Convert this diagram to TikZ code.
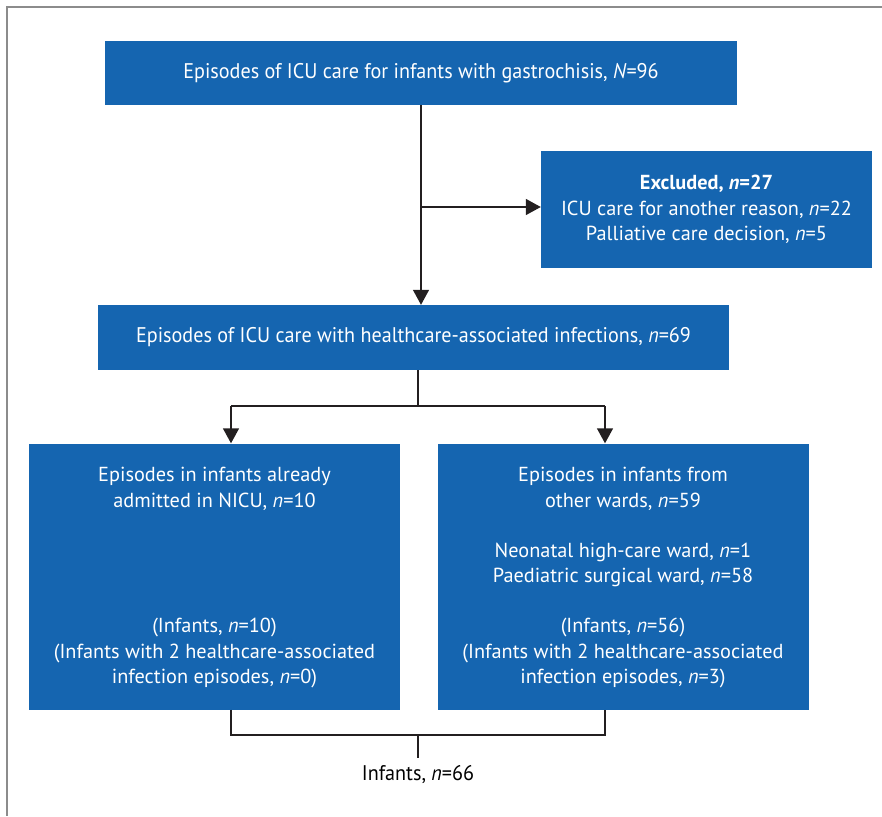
\documentclass[tikz,border=0pt]{standalone}
\usepackage{fontspec}
\setmainfont{PT Sans}
\newfontfamily\narrowfont[FakeStretch=0.95]{PT Sans}
\usepackage{xcolor}
\usetikzlibrary{arrows.meta}
\definecolor{boxblue}{RGB}{21,101,176}
\definecolor{linedark}{RGB}{35,31,32}
\definecolor{framegray}{RGB}{140,140,140}

\begin{document}
\begin{tikzpicture}[x=1pt,y=-1pt,
  box/.style={fill=boxblue, inner sep=0pt},
  boxtext/.style={text=white, align=center, inner sep=0pt, font=\fontsize{20.3}{25.5}\selectfont},
  narrowtext/.style={boxtext, font=\narrowfont\fontsize{21.2}{25.5}\selectfont},
  link/.style={draw=linedark, line width=1.4pt},
  arrow/.style={link, -{Triangle[width=16pt,length=15pt]}}]
                \useasboundingbox (0,0) rectangle (882,816);
                \draw[framegray, line width=1.5pt] (882,7) -- (7,7) -- (7,816);
                \node[box, minimum width=632pt, minimum height=64pt] (start) at (421,73) {};
                \node[narrowtext] (start-t) at (start) {Episodes of ICU care for infants with gastrochisis, \textit{N}=96};
                \node[box, minimum width=331pt, minimum height=117pt] (excl) at (706.5,209.5) {};
                \node[boxtext] (excl-t) at (excl) {\textbf{Excluded, \textit{n}=27}\\ICU care for another reason, \textit{n}=22\\Palliative care decision, \textit{n}=5};
                \node[box, minimum width=631pt, minimum height=65pt] (hai) at (413.5,337.5) {};
                \node[narrowtext] (hai-t) at (hai) {Episodes of ICU care with healthcare-associated infections, \textit{n}=69};
                \node[box, minimum width=371pt, minimum height=266pt] (nicu) at (214.5,576.5) {};
                \node[boxtext] (nicu-top) at (214.5,489) {Episodes in infants already\\admitted in NICU, \textit{n}=10};
                \node[boxtext] (nicu-bot) at (214.5,653) {(Infants, \textit{n}=10)\\(Infants with 2 healthcare-associated\\infection episodes, \textit{n}=0)};
                \node[box, minimum width=371pt, minimum height=266pt] (wards) at (623,576.5) {};
                \node[boxtext] (wards-top) at (623,489) {Episodes in infants from\\other wards, \textit{n}=59};
                \node[boxtext] (wards-mid) at (623,565) {Neonatal high-care ward, \textit{n}=1\\Paediatric surgical ward, \textit{n}=58};
                \node[boxtext] (wards-bot) at (623,653) {(Infants, \textit{n}=56)\\(Infants with 2 healthcare-associated\\infection episodes, \textit{n}=3)};
                \node[narrowtext, text=black] (total) at (418,775) {Infants, \textit{n}=66};
                \coordinate (split) at (421,207);
                \coordinate (fork) at (418,406);
                \coordinate (lfork) at (231,406);
                \coordinate (rfork) at (605,406);
                \coordinate (ljoin) at (231,735);
                \coordinate (rjoin) at (605,735);
                \coordinate (join) at (418,735);
                \draw[arrow] (start.south -| split) -- (hai.north -| split);
                \draw[arrow] (split) -- (excl.west |- split);
                \draw[link] (hai.south -| fork) -- (fork);
                \draw[link] (lfork) -- (rfork);
                \draw[arrow] (lfork) -- (nicu.north -| lfork);
                \draw[arrow] (rfork) -- (wards.north -| rfork);
                \draw[link] (nicu.south -| ljoin) -- (ljoin) -- (rjoin) -- (wards.south -| rjoin);
                \draw[link] (join) -- ++(0,23);
            \end{tikzpicture}
\end{document}
